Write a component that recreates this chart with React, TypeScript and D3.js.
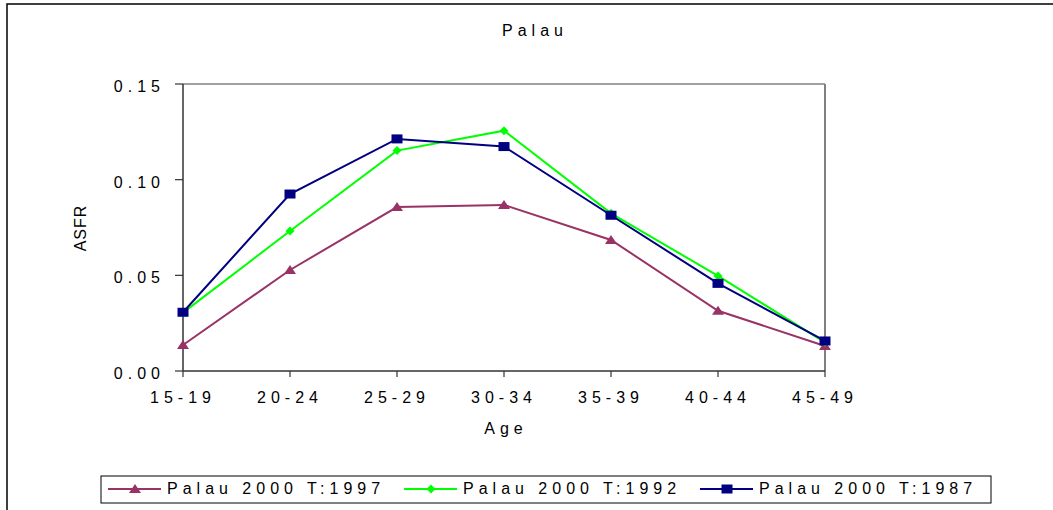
import React from 'react';
import * as d3 from 'd3';

const ages = ['15-19', '20-24', '25-29', '30-34', '35-39', '40-44', '45-49'];
const t1997 = [0.0136, 0.0528, 0.0857, 0.0868, 0.0685, 0.0315, 0.0131];
const t1992 = [0.0305, 0.0732, 0.1152, 0.1256, 0.0824, 0.0497, 0.015];
const t1987 = [0.0307, 0.0925, 0.1213, 0.1173, 0.0814, 0.0458, 0.0157];
const yTicks = [0, 0.05, 0.1, 0.15];
const seriesNames = ['Palau 2000 T:1997', 'Palau 2000 T:1992', 'Palau 2000 T:1987'];

const W = 1053;
const H = 510;
const plot = { left: 183, right: 825, top: 84, bottom: 371 };
const FONT = '"Liberation Sans", Arial, sans-serif';

type Marker = 'triangle' | 'diamond' | 'square';
const series: { name: string; values: number[]; color: string; marker: Marker }[] = [
  { name: seriesNames[0], values: t1997, color: '#993366', marker: 'triangle' },
  { name: seriesNames[1], values: t1992, color: '#00FF00', marker: 'diamond' },
  { name: seriesNames[2], values: t1987, color: '#000080', marker: 'square' },
];

function MarkerShape({ type, x, y, color }: { type: Marker; x: number; y: number; color: string }) {
  if (type === 'triangle') {
    return <path d={`M${x},${y - 5} L${x + 6},${y + 4} L${x - 6},${y + 4} Z`} fill={color} />;
  }
  if (type === 'diamond') {
    return <path d={`M${x},${y - 4.5} L${x + 4.5},${y} L${x},${y + 4.5} L${x - 4.5},${y} Z`} fill={color} />;
  }
  return <rect x={x - 5.5} y={y - 4.5} width={11} height={9} fill={color} />;
}

export default function App() {
  const x = d3.scalePoint<string>().domain(ages).range([plot.left, plot.right]);
  const y = d3.scaleLinear().domain([0, 0.15]).range([plot.bottom, plot.top]);
  const line = d3
    .line<number>()
    .x((_, i) => x(ages[i]) as number)
    .y((d) => y(d));

  const legendX = [108, 404, 700];

  return (
    <div style={{ position: 'absolute', left: 0, top: 0 }}>
      <svg width={W} height={H} style={{ display: 'block' }} fontFamily={FONT}>
        <rect x={0} y={0} width={W} height={H} fill="#fff" />
        <rect x={7} y={4} width={W + 20} height={H + 20} fill="none" stroke="#000" strokeWidth={1.5} />

        <text x={535} y={36} fontSize={16} textAnchor="middle" letterSpacing={5} fill="#000">
          Palau
        </text>

        {/* plot border (gray) */}
        <line x1={plot.left} x2={plot.right} y1={plot.top} y2={plot.top} stroke="#808080" strokeWidth={1.5} />
        <line x1={plot.right} x2={plot.right} y1={plot.top} y2={plot.bottom} stroke="#808080" strokeWidth={2} />

        {/* axes */}
        <line x1={plot.left} x2={plot.left} y1={plot.top} y2={plot.bottom} stroke="#333" strokeWidth={1.5} />
        <line x1={plot.left} x2={plot.right} y1={plot.bottom} y2={plot.bottom} stroke="#333" strokeWidth={1.5} />

        {yTicks.map((t) => (
          <g key={t}>
            <line x1={plot.left - 8} x2={plot.left} y1={y(t)} y2={y(t)} stroke="#333" strokeWidth={1.2} />
            <text x={165} y={y(t) + 8} fontSize={16} textAnchor="end" letterSpacing={5} fill="#000">
              {t.toFixed(2)}
            </text>
          </g>
        ))}

        {ages.map((a) => (
          <g key={a}>
            <line x1={x(a)} x2={x(a)} y1={plot.bottom} y2={plot.bottom + 6} stroke="#333" strokeWidth={1.2} />
            <text x={x(a)} y={403} fontSize={16} textAnchor="middle" letterSpacing={5} fill="#000">
              {a}
            </text>
          </g>
        ))}

        <text x={506} y={434} fontSize={16} textAnchor="middle" letterSpacing={5} fill="#000">
          Age
        </text>
        <text
          transform={`translate(86,228) rotate(-90)`}
          fontSize={16}
          textAnchor="middle"
          letterSpacing={1}
          fill="#000"
        >
          ASFR
        </text>

        {series.map((s) => (
          <g key={s.name}>
            <path d={line(s.values) || ''} fill="none" stroke={s.color} strokeWidth={2} />
            {s.values.map((v, i) => (
              <MarkerShape key={i} type={s.marker} x={x(ages[i]) as number} y={y(v)} color={s.color} />
            ))}
          </g>
        ))}

        {/* legend */}
        <rect x={101} y={476} width={890} height={27} fill="#fff" stroke="#000" strokeWidth={1} />
        {series.map((s, i) => (
          <g key={s.name}>
            <line x1={legendX[i]} x2={legendX[i] + 53} y1={489} y2={489} stroke={s.color} strokeWidth={2} />
            <MarkerShape type={s.marker} x={legendX[i] + 27} y={489} color={s.color} />
            <text x={legendX[i] + 59} y={494} fontSize={16} letterSpacing={5} fill="#000">
              {s.name}
            </text>
          </g>
        ))}
      </svg>
    </div>
  );
}
